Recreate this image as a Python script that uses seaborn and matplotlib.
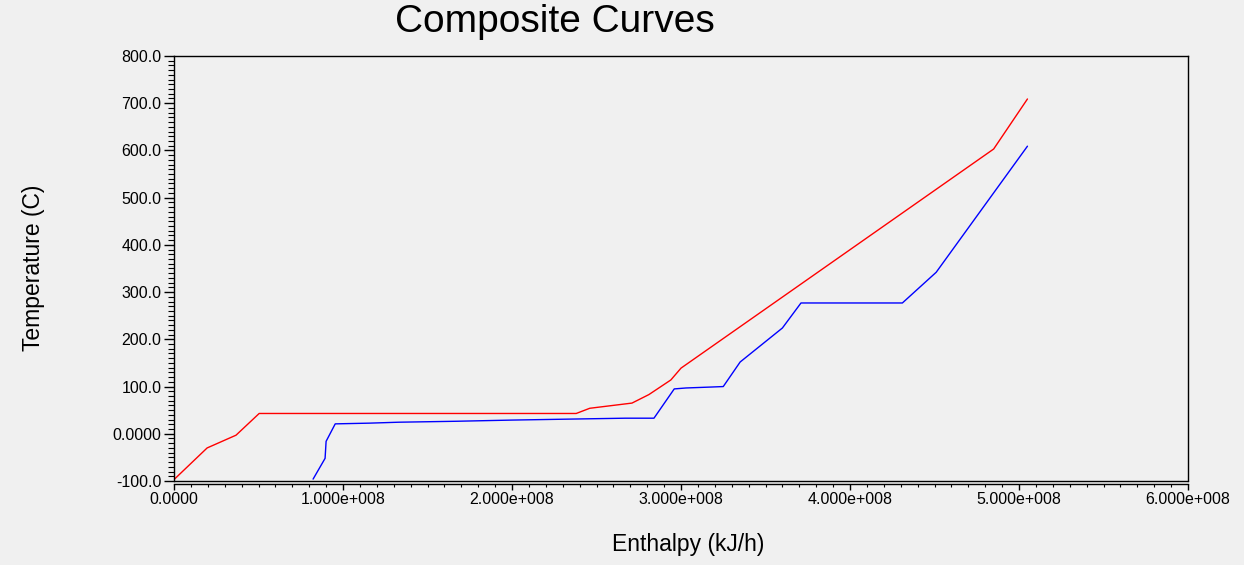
import matplotlib
matplotlib.use("Agg")
import matplotlib.pyplot as plt
import seaborn as sns
import pandas as pd
import numpy as np
from matplotlib.ticker import MultipleLocator, FixedLocator, FixedFormatter

# ---- data ----
hot_enthalpy = [0.0, 0.196e8, 0.367e8, 0.504e8, 2.38e8, 2.46e8, 2.71e8, 2.81e8, 2.94e8, 3.00e8, 4.85e8, 5.05e8]
hot_temp = [-97, -30, -3, 43, 43, 54, 65, 83, 114, 139, 603, 709]

cold_enthalpy = [0.823e8, 0.894e8, 0.900e8, 0.954e8, 1.155e8, 1.33e8, 1.67e8, 2.0e8, 2.33e8, 2.67e8, 2.84e8,
                 2.96e8, 3.03e8, 3.18e8, 3.25e8, 3.35e8, 3.60e8, 3.71e8, 4.31e8, 4.51e8, 5.05e8]
cold_temp = [-96, -52, -16, 21, 22.5, 24.5, 26.5, 29, 31, 33, 33,
             95, 97, 99, 100, 152, 224, 277, 277, 342, 609]

x_ticks = [0, 1e8, 2e8, 3e8, 4e8, 5e8, 6e8]
x_tick_labels = ["0.0000", "1.000e+008", "2.000e+008", "3.000e+008", "4.000e+008", "5.000e+008", "6.000e+008"]
y_ticks = [-100, 0, 100, 200, 300, 400, 500, 600, 700, 800]
y_tick_labels = ["-100.0", "0.0000", "100.0", "200.0", "300.0", "400.0", "500.0", "600.0", "700.0", "800.0"]

title = "Composite Curves"
x_label = "Enthalpy (kJ/h)"
y_label = "Temperature (C)"

# ---- style ----
sns.set_theme(style="ticks")
plt.rcParams["font.family"] = ["Liberation Sans", "DejaVu Sans"]
bg = "#f0f0f0"

W, H = 1244, 565
fig = plt.figure(figsize=(W / 100, H / 100), dpi=100, facecolor=bg)
left_px, right_px, top_px, bot_px = 174, 1188, 56, 481
ax = fig.add_axes([left_px / W, 1 - bot_px / H, (right_px - left_px) / W, (bot_px - top_px) / H])
ax.set_facecolor(bg)

hot = pd.DataFrame({"h": hot_enthalpy, "t": hot_temp})
cold = pd.DataFrame({"h": cold_enthalpy, "t": cold_temp})
sns.lineplot(data=hot, x="h", y="t", sort=False, estimator=None, color="#ff0000", lw=1.0, ax=ax)
sns.lineplot(data=cold, x="h", y="t", sort=False, estimator=None, color="#0000ff", lw=1.0, ax=ax)

ax.set_xlim(0, 6e8)
ax.set_ylim(-100, 800)

ax.xaxis.set_major_locator(FixedLocator(x_ticks))
ax.xaxis.set_major_formatter(FixedFormatter(x_tick_labels))
ax.xaxis.set_minor_locator(MultipleLocator(1e7))
ax.yaxis.set_major_locator(FixedLocator(y_ticks))
ax.yaxis.set_major_formatter(FixedFormatter(y_tick_labels))
ax.yaxis.set_minor_locator(MultipleLocator(10))

ax.tick_params(axis="y", which="major", length=7, width=1, color="black", labelsize=11.5, pad=2, labelcolor="black")
ax.tick_params(axis="y", which="minor", length=4.3, width=0.8, color="black")
ax.tick_params(axis="x", which="major", length=4, width=1, color="black", labelsize=11.5, pad=2, labelcolor="black")
ax.tick_params(axis="x", which="minor", length=2.2, width=0.8, color="black")

for s in ax.spines.values():
    s.set_color("black")
    s.set_linewidth(1.0)
    s.set_visible(True)
ax.spines["bottom"].set_position(("outward", 2))
ax.axhline(-100, color="black", lw=1.0, clip_on=False)

ax.set_xlabel("")
ax.set_ylabel("")

fig.text(555 / W, 1 - 22 / H, title, ha="center", va="center", fontsize=28, color="black")
fig.text(688 / W, 1 - 545 / H, x_label, ha="center", va="center", fontsize=16.5, color="black")
fig.text(34 / W, 1 - 268 / H, y_label, ha="center", va="center", rotation=90, fontsize=16.5, color="black")

fig.savefig("out.png", dpi=100, facecolor=bg)
